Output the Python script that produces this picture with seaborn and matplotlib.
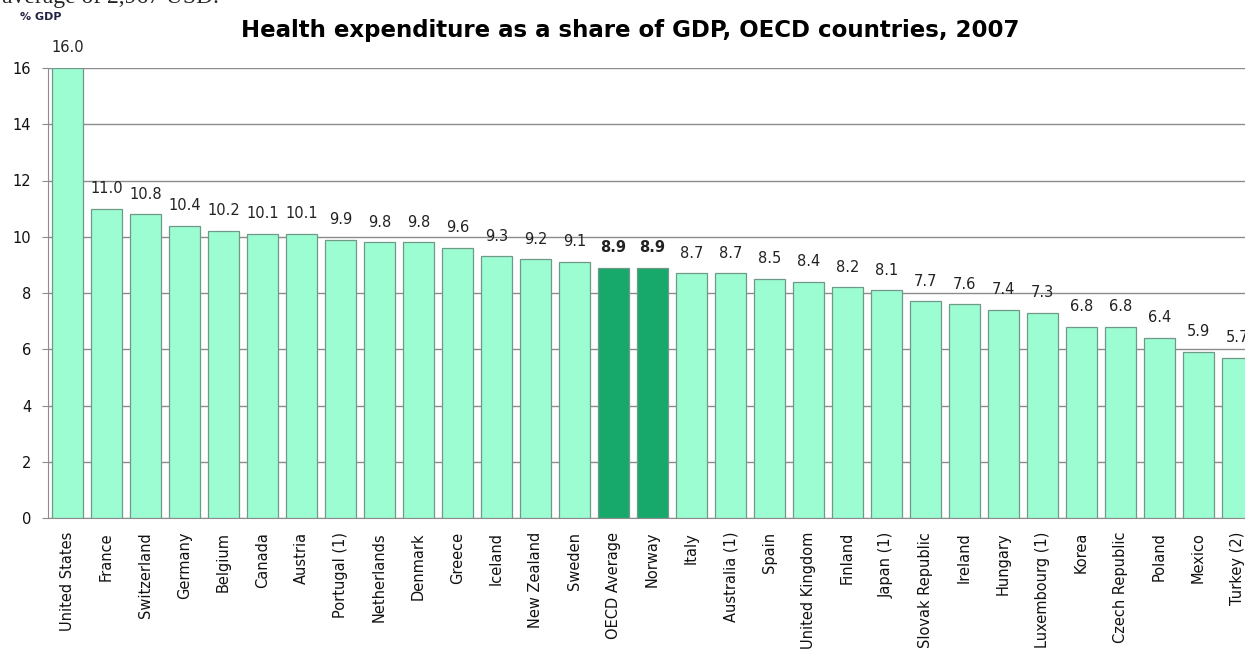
import numpy as np
import pandas as pd
import matplotlib
matplotlib.use("Agg")
import matplotlib.pyplot as plt
import seaborn as sns

countries = ["United States", "France", "Switzerland", "Germany", "Belgium", "Canada",
             "Austria", "Portugal (1)", "Netherlands", "Denmark", "Greece", "Iceland",
             "New Zealand", "Sweden", "OECD Average", "Norway", "Italy", "Australia (1)",
             "Spain", "United Kingdom", "Finland", "Japan (1)", "Slovak Republic",
             "Ireland", "Hungary", "Luxembourg (1)", "Korea", "Czech Republic", "Poland",
             "Mexico", "Turkey (2)"]
share = [16.0, 11.0, 10.8, 10.4, 10.2, 10.1, 10.1, 9.9, 9.8, 9.8, 9.6, 9.3, 9.2, 9.1,
         8.9, 8.9, 8.7, 8.7, 8.5, 8.4, 8.2, 8.1, 7.7, 7.6, 7.4, 7.3, 6.8, 6.8, 6.4,
         5.9, 5.7]
highlight = ["OECD Average", "Norway"]

df = pd.DataFrame({"country": countries, "share": share})
df["group"] = np.where(df["country"].isin(highlight), "dark", "light")

sns.set_style("white")
plt.rcParams["font.family"] = ["DejaVu Sans"]

fig = plt.figure(figsize=(12.45, 6.57), dpi=100)
# plot area runs a little past the right edge, as in the reference
ax = fig.add_axes([48 / 1245, 1 - 518 / 657, (1257 - 48) / 1245, (518 - 68) / 657])

sns.barplot(data=df, x="country", y="share", hue="group",
            palette={"light": "#9cfcd2", "dark": "#17a86b"}, saturation=1,
            width=0.79, dodge=False, legend=False, ax=ax,
            edgecolor="#6f9a88", linewidth=0.9, zorder=3)

ax.set_ylim(0, 16)
ax.set_yticks(range(0, 17, 2))
ax.yaxis.grid(True, color="#8c8c8c", linewidth=1.0, zorder=0)
ax.set_xlim(-0.5, len(countries) - 0.5)
for s in ["top", "right"]:
    ax.spines[s].set_visible(False)
ax.spines["left"].set_color("#8c8c8c")
ax.spines["bottom"].set_color("#8c8c8c")
ax.tick_params(axis="y", labelsize=10.5, length=4, color="#8c8c8c", left=True, pad=8,
               labelcolor="#111111")
ax.tick_params(axis="x", labelsize=10.5, rotation=90, length=0, pad=10, labelcolor="#111111")
ax.set_xlabel("")
ax.set_ylabel("")

for i, (c, v) in enumerate(zip(countries, share)):
    ax.text(i, v + 0.45, f"{v:.1f}", ha="center", va="bottom", fontsize=10.5,
            fontweight="bold" if c in highlight else "normal", color="#222222",
            clip_on=False)

fig.text(630 / 1245, 1 - 30 / 657, "Health expenditure as a share of GDP, OECD countries, 2007",
         ha="center", va="center", fontsize=16.5, fontweight="bold", color="black")
fig.text(20 / 1245, 1 - 17 / 657, "% GDP", ha="left", va="center", fontsize=8,
         fontweight="bold", color="#222244")
fig.text(0.002, 1 + 2 / 657, "average of 2,967 USD.", ha="left", va="center",
         fontsize=17, family=["Liberation Serif"])

fig.savefig("out.png", dpi=100)
